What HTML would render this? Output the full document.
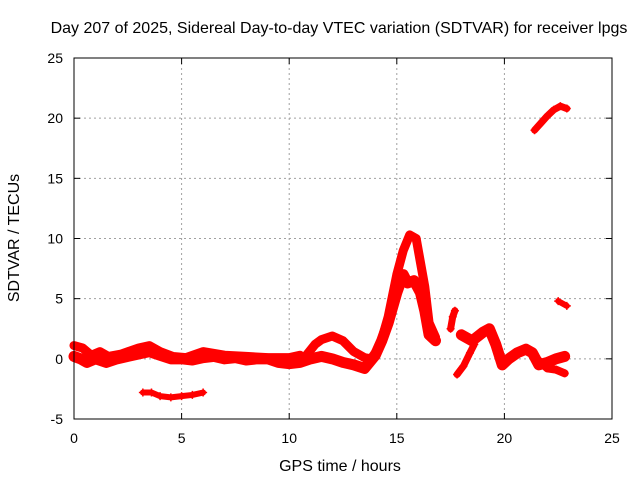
<!DOCTYPE html>
<html><head><meta charset="utf-8"><style>
body{margin:0;background:#fff}
svg{display:block;font-family:"Liberation Sans",sans-serif;font-size:14px}
.big{font-size:16px}
</style></head><body>
<svg width="640" height="480">
<g id="grid"></g>
<g id="ticks"></g>
<g id="marks"></g>
<rect x="74" y="58" width="538" height="361" fill="none" stroke="#000" stroke-width="1"/>
<text class="big" x="339" y="33" text-anchor="middle">Day 207 of 2025, Sidereal Day-to-day VTEC variation (SDTVAR) for receiver lpgs</text>
<text class="big" x="340" y="471" text-anchor="middle">GPS time / hours</text>
<text class="big" x="19" y="238" text-anchor="middle" transform="rotate(-90 19 238)">SDTVAR / TECUs</text>
</svg>
<script>
const xTicks=[0,5,10,15,20,25];
const yTicks=[-5,0,5,10,15,20,25];
const traceMain=[[0,0.2],[0.3,0],[0.6,-0.3],[1,0],[1.5,-0.3],[2,0],[2.5,0.2],[3,0.4],[3.5,0.6],[4,0.3],[4.5,0],[5,0],[5.5,-0.1],[6,0.1],[6.5,0.2],[7,0],[7.5,0.1],[8,-0.1],[8.5,0],[9,0],[9.5,-0.3],[10,-0.4],[10.5,-0.3],[11,0],[11.5,0.2],[12,0],[12.5,-0.3],[13,-0.5],[13.5,-0.8],[14,0.3],[14.3,1.5],[14.6,3],[15,5.5],[15.3,7],[15.5,6.3],[15.8,6.5],[16.1,5.5],[16.3,4],[16.5,2],[16.8,1.5]];
const traceUpper=[[0,1.1],[0.4,0.9],[0.8,0.3],[1.2,0.6],[1.6,0.2],[2.2,0.4],[3,0.9],[3.5,1.1],[4,0.6],[4.6,0.2],[5.2,0.1],[6,0.6],[7,0.3],[8,0.2],[9,0.1],[10,0.1],[10.5,0.3]];
const traceHump=[[10.8,0.3],[11.2,1.2],[11.5,1.6],[12,1.9],[12.5,1.5],[13,0.6],[13.5,0.1],[13.8,0]];
const tracePeak=[[13.8,0],[14.2,1],[14.6,3.5],[15,7],[15.3,9],[15.6,10.3],[15.9,10],[16.1,8],[16.3,6],[16.5,3],[16.8,1.8]];
const traceLate=[[18,2],[18.5,1.5],[19,2.2],[19.3,2.5],[19.6,1.2],[19.9,-0.5],[20.2,0],[20.6,0.5],[21,0.8],[21.3,0.5],[21.6,-0.5],[22,-0.3],[22.4,0],[22.8,0.2]];
const traceLateLow=[[21.5,0],[22,-0.8],[22.4,-0.9],[22.8,-1.2]];
const traceDip=[[17.8,-1.3],[18.1,-0.6],[18.4,0.5],[18.6,1.2]];
const traceSpike=[[17.5,2.5],[17.6,3.5],[17.7,4]];
const traceNeg=[[3.2,-2.8],[3.6,-2.8],[4,-3.1],[4.5,-3.2],[5,-3.1],[5.5,-3],[6,-2.8]];
const traceTop=[[21.4,19],[21.7,19.6],[22,20.2],[22.3,20.7],[22.6,21],[22.9,20.8]];
const traceSmall=[[22.5,4.8],[22.9,4.4]];
const allTraces=[traceMain,traceUpper,traceHump,tracePeak,traceLate,traceLateLow,traceDip,traceSpike,traceNeg,traceTop,traceSmall];
const widths=[11,9,9,9,11,8,7,7,6,7,6];
const NS='http://www.w3.org/2000/svg';
const X=v=>74+(v-0)/25*538;
const Y=v=>419-(v+5)/30*361;
const grid=document.getElementById('grid'),ticks=document.getElementById('ticks'),marks=document.getElementById('marks');
function mk(tag,attrs,parent){const e=document.createElementNS(NS,tag);for(const k in attrs)e.setAttribute(k,attrs[k]);parent.appendChild(e);return e;}
xTicks.forEach(t=>{
  const l=mk('line',{x1:X(t),x2:X(t),y1:58,y2:419,stroke:'#a0a0a0','stroke-dasharray':'2,3'},grid);
  
  
  const tx=mk('text',{x:X(t),y:443,'text-anchor':'middle'},ticks);tx.textContent=t;
  
  
  mk('line',{x1:X(t),x2:X(t),y1:419,y2:413,stroke:'#000'},ticks);
  mk('line',{x1:X(t),x2:X(t),y1:58,y2:64,stroke:'#000'},ticks);
});
yTicks.forEach(t=>{
  const l=mk('line',{x1:74,x2:612,y1:Y(t),y2:Y(t),stroke:'#a0a0a0','stroke-dasharray':'2,3'},grid);
  
  
  const tx=mk('text',{x:63,y:Y(t)+5,'text-anchor':'end'},ticks);tx.textContent=t;
  
  
  mk('line',{x1:74,x2:80,y1:Y(t),y2:Y(t),stroke:'#000'},ticks);
  mk('line',{x1:612,x2:606,y1:Y(t),y2:Y(t),stroke:'#000'},ticks);
});
allTraces.forEach((tr,i)=>{
  const p=mk('polyline',{points:tr.map(d=>X(d[0])+','+Y(d[1])).join(' '),fill:'none',stroke:'#ff0000','stroke-width':widths[i],'stroke-linejoin':'round','stroke-linecap':'round'},marks);
  
  
  tr.forEach(d=>{
    const x=X(d[0]),y=Y(d[1]);
    const m=mk('path',{d:`M${x-4},${y}H${x+4}M${x},${y-4}V${y+4}`,stroke:'#ff0000','stroke-width':1.5},marks);
    
    
  });
});
</script>
</body></html>
